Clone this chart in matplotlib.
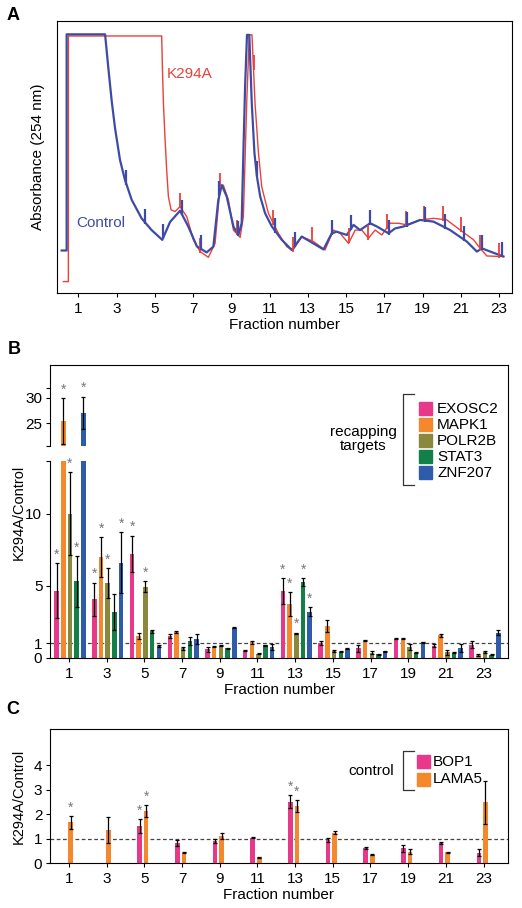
import matplotlib.pyplot as plt
import numpy as np
from matplotlib.lines import Line2D
from matplotlib.patches import Rectangle

plt.rcParams['font.family'] = ['Liberation Sans', 'DejaVu Sans']
plt.rcParams['font.size'] = 10
plt.rcParams['xtick.direction'] = 'out'
plt.rcParams['ytick.direction'] = 'out'
plt.rcParams['xtick.major.size'] = 3
plt.rcParams['ytick.major.size'] = 3

# ---- Panel A: gradient traces (fraction, A254 arbitrary units)
control_x = [0.13, 0.39, 0.39, 2.40, 2.57, 2.75, 2.92, 3.18, 3.44, 3.79, 4.31, 4.83, 5.39, 5.80,
             6.32, 6.75, 7.20, 7.71, 8.06, 8.32, 8.50, 8.76, 9.11, 9.37, 9.54, 9.63, 9.72, 9.82,
             9.94, 10.07, 10.21, 10.34, 10.51, 10.77, 11.12, 11.64, 12.16, 12.68, 13.29, 13.82,
             14.25, 14.51, 15.04, 15.39, 15.73, 16.26, 16.61, 17.22, 17.56, 18.00, 18.87, 19.57,
             20.44, 21.31, 21.84, 22.10, 22.54, 23.23]
control_y = [0.157, 0.157, 0.950, 0.950, 0.826, 0.703, 0.606, 0.489, 0.416, 0.343, 0.275, 0.232,
             0.196, 0.262, 0.303, 0.245, 0.172, 0.150, 0.171, 0.342, 0.397, 0.355, 0.245, 0.214,
             0.257, 0.514, 0.758, 0.948, 0.948, 0.697, 0.514, 0.428, 0.355, 0.293, 0.245, 0.196,
             0.159, 0.208, 0.183, 0.161, 0.220, 0.226, 0.214, 0.251, 0.232, 0.257, 0.245, 0.220,
             0.238, 0.245, 0.269, 0.263, 0.232, 0.190, 0.153, 0.165, 0.153, 0.135]
k294a_x = [0.22, 0.48, 0.48, 5.36, 5.40, 5.45, 5.53, 5.62, 5.71, 5.85, 6.06, 6.32, 6.67, 7.02,
           7.37, 7.80, 8.15, 8.41, 8.58, 8.85, 9.11, 9.46, 9.63, 9.81, 9.94, 10.08, 10.24, 10.42,
           10.59, 10.94, 11.46, 11.90, 12.21, 12.68, 13.29, 13.90, 14.34, 14.69, 15.13, 15.48,
           15.82, 16.17, 16.52, 16.87, 17.30, 17.74, 18.18, 18.87, 19.57, 20.27, 20.97, 21.67,
           22.01, 22.36, 23.06, 23.23]
k294a_y = [0.043, 0.043, 0.944, 0.944, 0.819, 0.697, 0.575, 0.452, 0.355, 0.306, 0.300, 0.318,
           0.281, 0.196, 0.153, 0.132, 0.183, 0.391, 0.397, 0.342, 0.232, 0.205, 0.281, 0.709,
           0.948, 0.948, 0.697, 0.514, 0.391, 0.293, 0.220, 0.171, 0.157, 0.208, 0.190, 0.159,
           0.232, 0.220, 0.183, 0.232, 0.232, 0.202, 0.232, 0.214, 0.257, 0.257, 0.251, 0.269,
           0.275, 0.269, 0.232, 0.196, 0.165, 0.137, 0.135, 0.135]
# fraction-collector marks on each trace
control_marks = [3.50, 4.49, 5.45, 6.41, 7.40, 8.38, 9.37, 10.33, 11.31, 12.33, 14.25, 15.26,
                 16.26, 17.22, 18.17, 19.13, 20.18, 21.14, 22.10, 23.14]
k294a_marks = [6.32, 7.37, 8.41, 9.28, 10.16, 11.2, 12.21, 13.24, 14.25, 15.17, 16.17, 17.13,
               18.14, 19.08, 20.06, 21.02, 22.01, 23.0]

# ---- Panel B: recapping targets, K294A/Control per fraction
fractions = [1, 3, 5, 7, 9, 11, 13, 15, 17, 19, 21, 23]
recap_genes = ['EXOSC2', 'MAPK1', 'POLR2B', 'STAT3', 'ZNF207']
exosc2 = [4.65, 4.07, 7.22, 1.53, 0.58, 0.49, 4.65, 1.0, 0.65, 1.32, 0.83, 0.9]
exosc2_err = [1.9, 1.15, 1.26, 0.15, 0.15, 0.05, 0.9, 0.15, 0.25, 0.05, 0.1, 0.25]
mapk1 = [25.5, 6.97, 1.5, 1.8, 0.76, 1.06, 3.73, 2.2, 1.2, 1.32, 1.57, 0.19]
mapk1_err = [4.5, 1.4, 0.23, 0.05, 0.05, 0.08, 0.8, 0.4, 0.05, 0.05, 0.1, 0.05]
polr2b = [10.0, 5.19, 4.93, 0.65, 0.83, 0.28, 1.69, 0.46, 0.35, 0.76, 0.37, 0.39]
polr2b_err = [2.9, 1.03, 0.37, 0.1, 0.05, 0.05, 0.05, 0.05, 0.1, 0.2, 0.15, 0.05]
stat3 = [5.3, 3.17, 1.85, 1.16, 0.65, 0.86, 5.25, 0.42, 0.23, 0.35, 0.35, 0.21]
stat3_err = [1.77, 1.23, 0.1, 0.3, 0.05, 0.05, 0.3, 0.05, 0.05, 0.05, 0.05, 0.05]
znf207 = [27.0, 6.6, 0.81, 1.27, 2.08, 0.74, 3.19, 0.62, 0.44, 1.06, 0.67, 1.74]
znf207_err = [3.2, 2.1, 0.05, 0.35, 0.05, 0.2, 0.3, 0.05, 0.05, 0.05, 0.3, 0.15]
recap_stars = [[1, 3, 5, 13], [1, 3, 13], [1, 3, 5, 13], [1, 13], [1, 3, 13]]
recap_colors = ['#E8388A', '#F5872C', '#8A883C', '#13804A', '#2F5CA8']

# ---- Panel C: control mRNAs
ctrl_genes = ['BOP1', 'LAMA5']
bop1 = [np.nan, np.nan, 1.52, 0.82, 0.91, 1.05, 2.52, 0.95, 0.61, 0.61, 0.82, 0.44]
bop1_err = [np.nan, np.nan, 0.27, 0.13, 0.1, 0.03, 0.28, 0.07, 0.04, 0.14, 0.03, 0.14]
lama5 = [1.67, 1.36, 2.14, 0.44, 1.12, 0.24, 2.34, 1.25, 0.35, 0.48, 0.45, 2.49]
lama5_err = [0.27, 0.52, 0.24, 0.04, 0.12, 0.03, 0.24, 0.07, 0.03, 0.1, 0.03, 0.87]
ctrl_stars = [[5, 13], [1, 5, 13]]
ctrl_colors = ['#E8388A', '#F5872C']

W, H = 522, 908
fig = plt.figure(figsize=(W / 100, H / 100), dpi=100)


def fbox(x0, y0, x1, y1):
    # pixel box (top-left origin) -> figure rect
    return [x0 / W, 1 - y1 / H, (x1 - x0) / W, (y1 - y0) / H]


def fpt(x, y):
    return x / W, 1 - y / H


def fline(xs, ys, **kw):
    fig.add_artist(Line2D([x / W for x in xs], [1 - y / H for y in ys],
                          transform=fig.transFigure, **kw))


# ================= Panel A =================
axA = fig.add_axes(fbox(56.7, 20.7, 511.7, 293.3))
blue, red = '#3D4BA6', '#E8413A'
axA.plot(k294a_x, k294a_y, color=red, lw=1.0)
axA.plot(control_x, control_y, color=blue, lw=1.6)
cy = np.interp(control_marks, control_x, control_y)
ry = np.interp(k294a_marks, k294a_x, k294a_y)
axA.vlines(k294a_marks, ry - 0.005, ry + 0.05, color=red, lw=1.3)
axA.vlines(control_marks, cy - 0.005, cy + 0.05, color=blue, lw=1.6)
axA.set_xlim(-0.13, 23.66)
axA.set_ylim(0, 1)
axA.set_xticks(range(1, 24, 2))
axA.set_yticks([])
axA.set_xlabel('Fraction number', labelpad=1.5, fontsize=11)
axA.text(5.6, 0.79, 'K294A', color=red, fontsize=11)
axA.text(0.88, 0.245, 'Control', color=blue, fontsize=11)
fig.text(*fpt(38, 157), 'Absorbance (254 nm)', rotation=90, ha='center', va='center', fontsize=11)
fig.text(*fpt(13, 15), 'A', fontsize=13, fontweight='bold', ha='center', va='center')


# ================= Panel B =================
def draw_group(axes, series, errs, stars, colors, offsets, width):
    for vals, err, st, col, off in zip(series, errs, stars, colors, offsets):
        x = np.array(fractions) + off
        for ax in axes:
            ax.bar(x, vals, width=width, color=col, linewidth=0, zorder=2)
            ax.errorbar(x, vals, yerr=err, fmt='none', ecolor='black', elinewidth=0.9,
                        capsize=1.6, capthick=0.9, zorder=3)
        for f in st:
            i = fractions.index(f)
            top = vals[i] + err[i]
            ax = axes[0]
            for a in axes:
                lo, hi = a.get_ylim()
                if lo <= top <= hi:
                    ax = a
            ax.annotate('*', (x[i], top), xytext=(0, 1.0), textcoords='offset points',
                        ha='center', va='bottom', color='#777777', fontsize=10, zorder=4)


xlo, xhi = 0.0, 24.28
axB = fig.add_axes(fbox(50, 461, 508, 657.7))
axBt = fig.add_axes(fbox(50, 365, 508, 445.7))
axB.set_ylim(0, 13.66)
axBt.set_ylim(20.6, 36.4)
for ax in (axB, axBt):
    ax.set_xlim(xlo, xhi)
    ax.spines['right'].set_visible(False)
axB.spines['top'].set_visible(False)
axBt.spines['bottom'].set_visible(False)
axBt.set_xticks([])
axB.set_xticks(fractions)
axB.set_yticks([0, 1, 5, 10, 13.66])
axB.set_yticklabels(['0', '1', '5', '10', ''])
axBt.set_yticks([20.6, 25, 30, 31.9])
axBt.set_yticklabels(['', '25', '30', ''])
axB.set_xlabel('Fraction number', labelpad=1.5, fontsize=11)
axB.axhline(1, color='#444444', lw=0.9, ls=(0, (3, 2)), zorder=1)
fline([508, 508], [365, 657.7], color='black', lw=0.8)

draw_group([axB, axBt], [exosc2, mapk1, polr2b, stat3, znf207],
           [exosc2_err, mapk1_err, polr2b_err, stat3_err, znf207_err],
           recap_stars, recap_colors, [-0.65, -0.295, 0.06, 0.415, 0.77], 0.24)

fig.text(*fpt(19, 512), 'K294A/Control', rotation=90, ha='center', va='center', fontsize=10.5)
fig.text(*fpt(14, 349), 'B', fontsize=13, fontweight='bold', ha='center', va='center')

# legend B
fline([414, 403.3, 403.3, 414], [394, 394, 485, 485], color='#333333', lw=0.9)
for k, (name, col) in enumerate(zip(recap_genes, recap_colors)):
    yc = 408.7 + 16 * k
    fig.add_artist(Rectangle(fpt(419, yc + 6.5), 13 / W, 13 / H, color=col,
                             transform=fig.transFigure))
    fig.text(*fpt(437, yc), name, ha='left', va='center', fontsize=11)
fig.text(*fpt(363, 439), 'recapping\ntargets', ha='center', va='center', fontsize=11,
         linespacing=1.05)

# ================= Panel C =================
axC = fig.add_axes(fbox(50, 729, 507.7, 863.3))
axC.set_xlim(xlo, xhi)
axC.set_ylim(0, 5.48)
axC.set_xticks(fractions)
axC.set_yticks([0, 1, 2, 3, 4])
axC.set_xlabel('Fraction number', labelpad=1.5, fontsize=11)
axC.axhline(1, color='#444444', lw=0.9, ls=(0, (3, 2)), zorder=1)
draw_group([axC], [bop1, lama5], [bop1_err, lama5_err], ctrl_stars, ctrl_colors,
           [-0.25, 0.1], 0.24)
fig.text(*fpt(19, 796), 'K294A/Control', rotation=90, ha='center', va='center', fontsize=10.5)
fig.text(*fpt(13, 709), 'C', fontsize=13, fontweight='bold', ha='center', va='center')

fline([414, 403.3, 403.3, 414], [750.7, 750.7, 790, 790], color='#333333', lw=0.9)
for k, (name, col) in enumerate(zip(ctrl_genes, ctrl_colors)):
    yc = 761.7 + 17.3 * k
    fig.add_artist(Rectangle(fpt(417.3, yc + 6.5), 13 / W, 13 / H, color=col,
                             transform=fig.transFigure))
    fig.text(*fpt(433, yc), name, ha='left', va='center', fontsize=11)
fig.text(*fpt(370.7, 770.7), 'control', ha='center', va='center', fontsize=11)

for ax in (axA, axB, axBt, axC):
    for s in ax.spines.values():
        s.set_linewidth(0.8)
    ax.tick_params(labelsize=11, width=0.8, pad=3.5)
for ax in (axB, axBt, axC):
    ax.tick_params(axis='y', pad=2.5)

fig.savefig('out.png', dpi=100)
